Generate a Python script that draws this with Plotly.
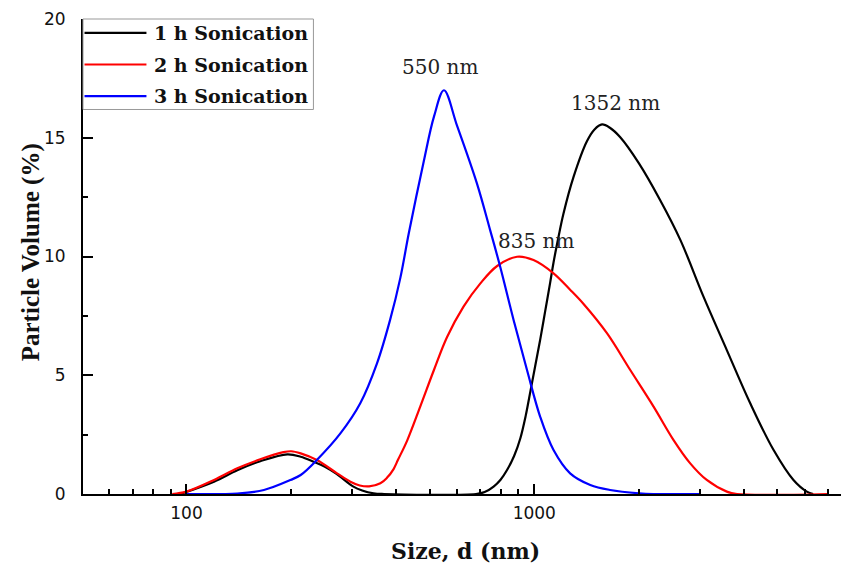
import numpy as np
import plotly.graph_objects as go

# Particle size distributions (size in nm, volume in %)
size_1h = [96, 120, 140, 163, 195, 213, 232, 250, 270, 302, 320, 345, 370,
           680, 720, 764, 800, 835, 875, 912, 945, 974, 1005, 1040, 1075, 1111,
           1136, 1175, 1213, 1297, 1417, 1490, 1566, 1650, 1767, 2000, 2300,
           2632, 3066, 3578, 4178, 4877, 5562, 6078, 6340]
vol_1h = [0.0, 0.52, 1.0, 1.38, 1.67, 1.57, 1.36, 1.15, 0.85, 0.31, 0.15, 0.03, 0.0,
          0.0, 0.08, 0.31, 0.6, 1.01, 1.6, 2.35, 3.3, 4.3, 5.35, 6.5, 7.7, 8.9,
          9.75, 10.85, 11.8, 13.35, 14.85, 15.35, 15.56, 15.42, 15.02, 13.92, 12.38,
          10.69, 8.31, 6.06, 3.82, 1.85, 0.59, 0.1, 0.0]

size_2h = [91, 100, 120, 140, 163, 190, 200, 213, 237, 271, 296, 315, 335, 361,
           377, 394, 406, 431, 470, 514, 561, 626, 700, 782, 892, 995, 1136, 1268,
           1386, 1618, 1888, 2203, 2515, 2808, 3133, 3578, 3830, 7000]
vol_2h = [0.0, 0.1, 0.59, 1.08, 1.46, 1.76, 1.8, 1.71, 1.43, 0.87, 0.52, 0.36, 0.32, 0.45,
          0.68, 1.05, 1.45, 2.25, 3.68, 5.2, 6.6, 7.89, 8.87, 9.6, 9.99, 9.85, 9.29, 8.6,
          8.0, 6.77, 5.22, 3.68, 2.27, 1.29, 0.59, 0.1, 0.0, 0.0]

size_3h = [100, 140, 167, 199, 213, 237, 277, 316, 353, 385, 412, 436, 481, 515,
           550, 600, 684, 747, 798, 872, 953, 1040, 1136, 1268, 1449, 1652, 2000,
           2200, 3000]
vol_3h = [0.0, 0.02, 0.17, 0.59, 0.8, 1.43, 2.55, 3.82, 5.5, 7.33, 9.1, 11.0, 14.0, 15.9,
          17.0, 15.5, 13.08, 11.1, 9.57, 7.33, 5.22, 3.25, 1.85, 0.87, 0.38, 0.17, 0.03,
          0.0, 0.0]

names = ["1 h Sonication", "2 h Sonication", "3 h Sonication"]
colors = ["#000000", "#ff0000", "#0000ff"]
sizes = [size_1h, size_2h, size_3h]
vols = [vol_1h, vol_2h, vol_3h]

# Peak annotations: text, size (nm), volume (%)
peak_text = ["1352 nm", "835 nm", "550 nm"]
peak_size = [1717, 1013, 537]
peak_vol = [16.48, 10.64, 17.96]

# Axis ticks
x_major = [100, 1000]
x_major_text = ["100", "1000"]
x_minor = [60, 70, 80, 90, 200, 300, 400, 500, 600, 700, 800, 900,
           2000, 3000, 4000, 5000, 6000, 7000]
y_major = [0, 5, 10, 15, 20]
y_minor = [2.5, 7.5, 12.5, 17.5]

x_range = [np.log10(50.4), np.log10(7620)]

fig = go.Figure()
for s, v, n, c in zip(sizes, vols, names, colors):
    fig.add_trace(go.Scatter(x=s, y=v, name=n, mode="lines",
                             line=dict(color=c, width=2.2, shape="spline", smoothing=1.0),
                             showlegend=False))

tick_font = dict(family="DejaVu Sans", size=17, color="#111111")

xaxis_common = dict(
    type="log", range=x_range,
    tickmode="array", tickvals=x_major, ticktext=x_major_text,
    ticks="inside", ticklen=10, tickwidth=1.5, tickcolor="#000000",
    minor=dict(tickmode="array", tickvals=x_minor, ticks="inside", ticklen=5,
               tickwidth=1.5, tickcolor="#000000", showgrid=False),
    showgrid=False, zeroline=False, showline=True,
)

fig.update_layout(
    width=841, height=567,
    margin=dict(l=83, r=0, t=19, b=73),
    paper_bgcolor="white", plot_bgcolor="white",
    showlegend=False,
    xaxis=dict(**xaxis_common, linecolor="#000000", linewidth=2,
               tickfont=tick_font, ticklabelstandoff=3),
    xaxis2=dict(**xaxis_common, overlaying="x", side="top", anchor="y",
                matches="x", showticklabels=False,
                linecolor="#777777", linewidth=1.5),
    yaxis=dict(range=[0, 20], tickmode="array", tickvals=y_major,
               ticks="inside", ticklen=10, tickwidth=1.5, tickcolor="#000000",
               minor=dict(tickmode="array", tickvals=y_minor, ticks="inside",
                          ticklen=5, tickwidth=1.5, tickcolor="#000000", showgrid=False),
               showgrid=False, zeroline=False, showline=True,
               linecolor="#000000", linewidth=2,
               tickfont=tick_font, ticklabelstandoff=12),
)

# Axis titles
fig.add_annotation(text="<b>Size, d (nm)</b>", xref="paper", yref="paper",
                   x=0.504, y=-0.119, xanchor="center", yanchor="middle",
                   showarrow=False,
                   font=dict(family="DejaVu Serif", size=22, color="#111111"))
fig.add_annotation(text="<b>Particle Volume (%)</b>", xref="paper", yref="paper",
                   x=-0.0692, y=0.508, xanchor="center", yanchor="middle",
                   textangle=-90, showarrow=False,
                   font=dict(family="Liberation Serif", size=25, color="#111111"))

# Peak labels
for t, s, v in zip(peak_text, peak_size, peak_vol):
    fig.add_annotation(text=t, x=np.log10(s), y=v, xref="x", yref="y",
                       xanchor="center", yanchor="middle", showarrow=False,
                       font=dict(family="DejaVu Serif", size=20, color="#222222"))

# Legend box drawn in paper coordinates
fig.add_shape(type="rect", xref="paper", yref="paper", x0=0.0, x1=0.304,
              y0=0.8095, y1=1.0, line=dict(color="#999999", width=1),
              fillcolor="white", layer="above")
row_y = [0.971, 0.9042, 0.8375]
for n, c, ry in zip(names, colors, row_y):
    fig.add_shape(type="line", xref="paper", yref="paper", x0=0.002, x1=0.0837,
                  y0=ry, y1=ry, line=dict(color=c, width=2.2), layer="above")
    fig.add_annotation(text="<b>" + n + "</b>", xref="paper", yref="paper",
                       x=0.0915, y=ry, xanchor="left", yanchor="middle",
                       showarrow=False,
                       font=dict(family="DejaVu Serif", size=19, color="#111111"))

fig.write_html("out.html")
